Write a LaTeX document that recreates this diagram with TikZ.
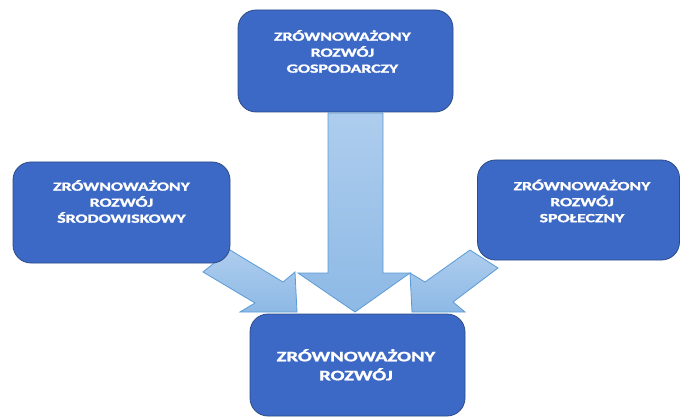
\documentclass[tikz,border=0pt]{standalone}
\usepackage{fontspec}
\setmainfont{Carlito}
\newfontfamily\zrfont{Carlito}[UprightFont=*-Bold,FakeBold=1.2]
\usepackage{graphicx}
\usepackage{tikz}
\usetikzlibrary{calc,positioning}
\definecolor{zrblue}{HTML}{3D69C6}
\definecolor{zrline}{HTML}{2B4A86}
\definecolor{zrarrowtop}{HTML}{AECDEE}
\definecolor{zrarrowbot}{HTML}{8DB9E5}
\definecolor{zrarrowline}{HTML}{5B9BD5}
\newcommand{\zrtext}[1]{\scalebox{1.42}[1]{\begin{tabular}{@{}c@{}}#1\end{tabular}}}

\begin{document}
\begin{tikzpicture}[x=1pt,y=-1pt,
  blok/.style={draw=zrline,line width=0.8pt,fill=zrblue,rounded corners=18pt},
  napis/.style={text=white,inner sep=0pt,font=\fontsize{12.5}{16}\selectfont\zrfont},
  strzalka/.style={draw=zrarrowline,line width=0.8pt,top color=zrarrowtop,bottom color=zrarrowbot,line join=miter}]
\useasboundingbox (0,0) rectangle (680,417);
\begin{scope}
\clip (0,0) rectangle (680,417);
% block arrows towards the main box
\path[strzalka] (328,113) -- (383,113) -- (383,273) -- (410,273) -- (355,312)
  -- (298,273) -- (328,273) -- cycle;
\path[strzalka] (230,250) -- (283,282) -- (295,272) -- (297,312) -- (240,312)
  -- (255,303) -- (203,272) -- cycle;
\path[strzalka] (470,250) -- (498,268) -- (453,302) -- (465,312) -- (412,312)
  -- (410,273) -- (425,282) -- cycle;
% boxes
\node[blok,minimum width=215pt,minimum height=102pt] (gosp) at (345.5,61) {};
\node[blok,minimum width=217pt,minimum height=101pt] (srod) at (121.5,212.5) {};
\node[blok,minimum width=202pt,minimum height=100pt] (spol) at (578.5,210) {};
\node[blok,minimum width=215pt,minimum height=102pt] (rozw) at (357.5,365) {};
\node[napis] (gosptxt) at ($(gosp.center)+(-3,-7.5)$)
  {\zrtext{ZRÓWNOWAŻONY\\ROZWÓJ\\GOSPODARCZY}};
\node[napis] (srodtxt) at ($(srod.center)+(0,-9)$)
  {\zrtext{ZRÓWNOWAŻONY\\ROZWÓJ\\ŚRODOWISKOWY}};
\node[napis] (spoltxt) at ($(spol.center)+(3.5,-7)$)
  {\zrtext{ZRÓWNOWAŻONY\\ROZWÓJ\\SPOŁECZNY}};
\node[napis,font=\fontsize{14.5}{19}\selectfont\zrfont] (rozwtxt) at ($(rozw.center)+(-1.5,2)$)
  {\zrtext{ZRÓWNOWAŻONY\\ROZWÓJ}};
\end{scope}
\end{tikzpicture}
\end{document}
